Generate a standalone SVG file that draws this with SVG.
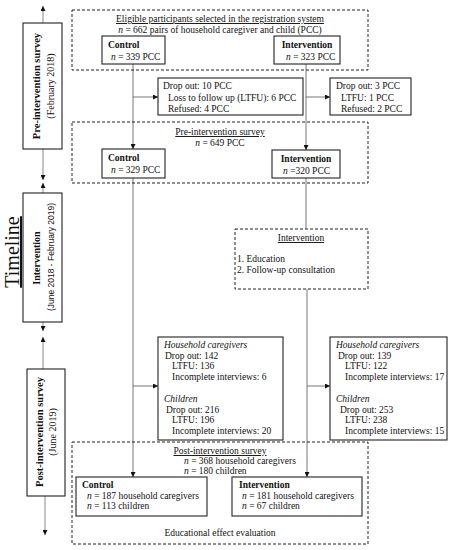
<svg xmlns="http://www.w3.org/2000/svg" width="462" height="550" viewBox="0 0 462 550">
<style>
text{font-family:"Liberation Serif","DejaVu Serif",serif;font-size:9.5px;fill:#111}
.b{font-weight:bold}
.i{font-style:italic}
.u{text-decoration:underline}
.m{text-anchor:middle}
.box{fill:#fff;stroke:#222;stroke-width:1.1}
.dash{fill:none;stroke:#222;stroke-width:1;stroke-dasharray:3,2}
.ln{fill:none;stroke:#666;stroke-width:0.9}
.tl{fill:none;stroke:#888;stroke-width:1}
.sans{font-family:"Liberation Sans","DejaVu Sans",sans-serif;font-size:8.5px}
</style>
<defs>
<marker id="ah" viewBox="0 0 10 10" refX="10" refY="5" markerWidth="5" markerHeight="5" orient="auto" markerUnits="userSpaceOnUse">
<path d="M0,0 L10,5 L0,10 z" fill="#111"/>
</marker>
</defs>

<g id="timeline">
<line class="tl" x1="43" y1="23" x2="43" y2="6" marker-end="url(#ah)"/>
<line class="tl" x1="43" y1="149" x2="43" y2="180" marker-end="url(#ah)"/>
<line class="tl" x1="43" y1="193" x2="43" y2="183" marker-end="url(#ah)"/>
<line class="tl" x1="43" y1="322" x2="43" y2="331" marker-end="url(#ah)"/>
<line class="tl" x1="43" y1="369" x2="43" y2="337" marker-end="url(#ah)"/>
<line class="tl" x1="45" y1="496" x2="45" y2="535" marker-end="url(#ah)"/>
<text class="u" transform="translate(19,252) rotate(-90)" text-anchor="middle" style="font-size:20px">Timeline</text>
</g>

<g id="phase-pre">
<rect class="box" x="23" y="23" width="39" height="126"/>
<text class="b m" transform="translate(40,86) rotate(-90)" style="font-size:10.5px">Pre-intervention survey</text>
<text class="m" transform="translate(54,86) rotate(-90)" style="font-size:10px">(February 2018)</text>
</g>
<g id="phase-intervention">
<rect class="box" x="23" y="193" width="39" height="129"/>
<text class="b m" transform="translate(40,258) rotate(-90)" style="font-size:10px">Intervention</text>
<text class="sans m" transform="translate(54,257) rotate(-90)">(June 2018 - February 2019)</text>
</g>
<g id="phase-post">
<rect class="box" x="27" y="369" width="38" height="127"/>
<text class="b m" transform="translate(43,432) rotate(-90)" style="font-size:10.5px">Post-intervention survey</text>
<text class="m" transform="translate(56,432) rotate(-90)" style="font-size:10px">(June 2019)</text>
</g>

<g id="connectors">
<line class="ln" x1="133" y1="64" x2="133" y2="149" marker-end="url(#ah)"/>
<line class="ln" x1="133" y1="97" x2="158" y2="97" marker-end="url(#ah)"/>
<line class="ln" x1="306" y1="64" x2="306" y2="150" marker-end="url(#ah)"/>
<line class="ln" x1="306" y1="97" x2="330" y2="97" marker-end="url(#ah)"/>
<line class="ln" x1="133" y1="178" x2="133" y2="477" marker-end="url(#ah)"/>
<line class="ln" x1="133" y1="386" x2="158" y2="386" marker-end="url(#ah)"/>
<line class="ln" x1="306" y1="178" x2="306" y2="229"/>
<line class="ln" x1="307" y1="289" x2="307" y2="477" marker-end="url(#ah)"/>
<line class="ln" x1="307" y1="386" x2="330" y2="386" marker-end="url(#ah)"/>
</g>

<g id="eligible">
<rect class="dash" x="72" y="10" width="296" height="60"/>
<text class="u m" x="220" y="22">Eligible participants selected in the registration system</text>
<text class="m" x="220" y="33"><tspan class="i">n</tspan> = 662 pairs of household caregiver and child (PCC)</text>
</g>
<g id="control1">
<rect class="box" x="102" y="36" width="63" height="28"/>
<text class="b" x="108" y="48">Control</text>
<text x="111" y="60"><tspan class="i">n</tspan> = 339 PCC</text>
</g>
<g id="intervention1">
<rect class="box" x="274" y="36" width="66" height="28"/>
<text class="b m" x="307" y="48">Intervention</text>
<text x="286" y="60"><tspan class="i">n</tspan> = 323 PCC</text>
</g>
<g id="dropout1">
<rect class="box" x="158" y="78" width="145" height="37"/>
<text x="163" y="89">Drop out: 10 PCC</text>
<text x="168" y="101">Loss to follow up (LTFU): 6 PCC</text>
<text x="168" y="112">Refused: 4 PCC</text>
</g>
<g id="dropout2">
<rect class="box" x="330" y="78" width="81" height="37"/>
<text x="336" y="89">Drop out: 3 PCC</text>
<text x="341" y="101">LTFU: 1 PCC</text>
<text x="341" y="112">Refused: 2 PCC</text>
</g>
<g id="preSurvey">
<rect class="dash" x="72" y="122" width="296" height="61"/>
<text class="u m" x="220" y="135">Pre-intervention survey</text>
<text class="m" x="220" y="146"><tspan class="i">n</tspan> = 649 PCC</text>
</g>
<g id="control2">
<rect class="box" x="102" y="149" width="63" height="29"/>
<text class="b" x="108" y="161">Control</text>
<text x="111" y="173"><tspan class="i">n</tspan> = 329 PCC</text>
</g>
<g id="intervention2">
<rect class="box" x="272" y="150" width="68" height="28"/>
<text class="b m" x="306" y="162">Intervention</text>
<text x="283" y="174"><tspan class="i">n</tspan> =320 PCC</text>
</g>
<g id="interventionBox">
<rect class="dash" x="235" y="229" width="133" height="60"/>
<text class="u m" x="301" y="241">Intervention</text>
<text x="237" y="262">1. Education</text>
<text x="237" y="273">2. Follow-up consultation</text>
</g>
<g id="lossControl">
<rect class="box" x="158" y="337" width="125" height="103"/>
<text class="i" x="164" y="348">Household caregivers</text>
<text x="165" y="359">Drop out: 142</text>
<text x="172" y="369">LTFU: 136</text>
<text x="172" y="380">Incomplete interviews: 6</text>
<text class="i" x="164" y="402">Children</text>
<text x="166" y="413">Drop out: 216</text>
<text x="172" y="423">LTFU: 196</text>
<text x="172" y="434">Incomplete interviews: 20</text>
</g>
<g id="lossIntervention">
<rect class="box" x="330" y="337" width="117" height="103"/>
<text class="i" x="336" y="348">Household caregivers</text>
<text x="338" y="359">Drop out: 139</text>
<text x="345" y="369">LTFU: 122</text>
<text x="345" y="380">Incomplete interviews: 17</text>
<text class="i" x="336" y="402">Children</text>
<text x="340" y="413">Drop out: 253</text>
<text x="345" y="423">LTFU: 238</text>
<text x="345" y="434">Incomplete interviews: 15</text>
</g>
<g id="postSurvey">
<rect class="dash" x="72" y="442" width="296" height="102"/>
<text class="u m" x="220" y="454">Post-intervention survey</text>
<text x="184" y="464"><tspan class="i">n</tspan> = 368 household caregivers</text>
<text x="184" y="474"><tspan class="i">n</tspan> = 180 children</text>
<text class="m" x="220" y="536">Educational effect evaluation</text>
</g>
<g id="control3">
<rect class="box" x="76" y="477" width="131" height="39"/>
<text class="b" x="82" y="488">Control</text>
<text x="87" y="499"><tspan class="i">n</tspan> = 187 household caregivers</text>
<text x="87" y="509"><tspan class="i">n</tspan> = 113 children</text>
</g>
<g id="intervention3">
<rect class="box" x="232" y="477" width="130" height="39"/>
<text class="b" x="239" y="488">Intervention</text>
<text x="242" y="499"><tspan class="i">n</tspan> = 181 household caregivers</text>
<text x="242" y="509"><tspan class="i">n</tspan> = 67 children</text>
</g>
</svg>
